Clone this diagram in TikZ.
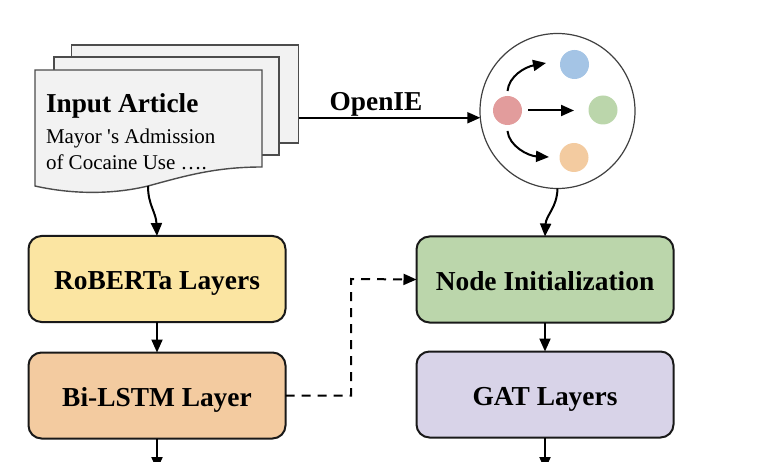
\documentclass[tikz,border=0pt]{standalone}
\usepackage{fontspec}
\setmainfont{Liberation Serif}
\usetikzlibrary{arrows.meta}
\definecolor{sheetgray}{HTML}{F2F2F2}
\definecolor{robertafill}{HTML}{FBE5A2}
\definecolor{lstmfill}{HTML}{F3CBA0}
\definecolor{initfill}{HTML}{BBD6AB}
\definecolor{gatfill}{HTML}{D8D3E8}
\definecolor{dotred}{HTML}{E29C9C}
\definecolor{dotblue}{HTML}{A4C4E5}
\definecolor{dotgreen}{HTML}{BBD6AB}
\definecolor{dotorange}{HTML}{F3CBA0}
\tikzset{
	layerbox/.style={rectangle, draw=black!90, line width=2, rounded corners=13, minimum width=257, minimum height=86, text height=22, text depth=0, font=\fontsize{27.4}{27.4}\selectfont\bfseries},
	sheetbox/.style={rectangle, draw=black!70, line width=1.4, fill=sheetgray, minimum height=98},
	entity/.style={circle, minimum width=29, inner sep=0},
	conn/.style={-{Triangle[length=13, width=11]}, line width=2, black}
}
\begin{document}
\begin{tikzpicture}[x=1pt, y=-1pt, inner sep=0pt, outer sep=0pt]
\useasboundingbox (0,0) rectangle (760,462);
	% article pages
	\node[sheetbox, minimum width=227] (sheetC) at (185,94) {};
	\node[sheetbox, minimum width=225] (sheetB) at (166.5,106) {};
	\draw[draw=black!70, line width=1.4, fill=sheetgray] (35,70) -- (262,70) -- (262,167) .. controls (215,167) and (185,176) .. (148,186) .. controls (115,194) and (75,195) .. (35,186) -- cycle;
	\coordinate (sheetA) at (148,186);
	\node[anchor=west, font=\fontsize{27.3}{27.3}\selectfont\bfseries] (title) at (46,105.5) {Input Article};
	\node[anchor=west, font=\fontsize{21}{21}\selectfont] (line1) at (46,138) {Mayor \textquotesingle s Admission};
	\node[anchor=west, font=\fontsize{21}{21}\selectfont] (line2) at (46,162) {of Cocaine Use ….};
	% graph
	\node[circle, draw=black!75, line width=1.2, minimum width=155] (graph) at (557.5,111) {};
	\node[entity, fill=dotred] (red) at (507.5,110.5) {};
	\node[entity, fill=dotblue] (blue) at (574.5,64.5) {};
	\node[entity, fill=dotgreen] (green) at (603,110) {};
	\node[entity, fill=dotorange] (orange) at (574,157.5) {};
	\coordinate (blueend) at (546,63);
	\coordinate (greenend) at (574,110.5);
	\coordinate (orangeend) at (549,157);
	\draw[conn] (507.5,91) .. controls (509,76) and (525,67) .. (blueend);
	\draw[conn] (528,110.5) -- (greenend);
	\draw[conn] (507.5,131) .. controls (509,146) and (528,156) .. (orangeend);
	% layers
	\node[layerbox, fill=robertafill] (roberta) at (157,279) {RoBERTa Layers};
	\node[layerbox, fill=lstmfill] (lstm) at (157,395.5) {Bi-LSTM Layer};
	\node[layerbox, fill=initfill] (init) at (545,279.5) {Node Initialization};
	\node[layerbox, fill=gatfill] (gat) at (545,394.5) {GAT Layers};
	\coordinate (lstmout) at (157,470);
	\coordinate (gatout) at (545,470);
	% connectors
	\draw[conn] (sheetC.east |- graph.185) -- (graph.185);
	\node[font=\fontsize{27.3}{27.3}\selectfont\bfseries] (openie) at (376,104) {OpenIE};
	\draw[conn] (sheetA) .. controls (148,205) and (156,212) .. (roberta.north);
	\draw[conn] (graph.south) .. controls (557,208) and (546,215) .. (init.north);
	\draw[conn] (roberta) -- (lstm);
	\draw[conn] (init) -- (gat);
	\draw[conn] (lstm) -- (lstmout);
	\draw[conn] (gat) -- (gatout);
	\draw[conn, dash pattern=on 9 off 7] (lstm.east) -| (351,279) -- (init.west);
\end{tikzpicture}
\end{document}
